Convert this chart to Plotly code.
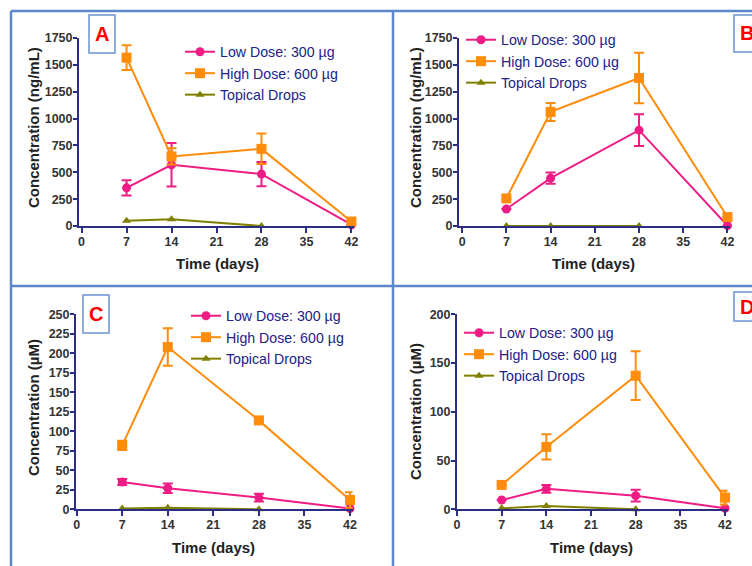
import plotly.graph_objects as go

# ---------------- data ----------------
days = [7, 14, 28, 42]
topical_days = [7, 14, 28]
x_ticks = [0, 7, 14, 21, 28, 35, 42]

A_low = [355, 570, 483, 12]
A_low_err = [72, 203, 112, 0]
A_high = [1567, 648, 718, 42]
A_high_err = [115, 75, 142, 0]
A_top = [48, 63, 0]

B_low = [158, 445, 892, 3]
B_low_err = [0, 52, 148, 0]
B_high = [257, 1062, 1378, 83]
B_high_err = [0, 84, 235, 0]
B_top = [0, 0, 0]

C_low = [35, 27, 15, 1]
C_low_err = [4, 6, 5, 0]
C_high = [82, 208, 114, 12]
C_high_err = [6, 24, 3, 10]
C_top = [1, 2, 0]

D_low = [9.5, 21, 14, 1]
D_low_err = [0, 4, 6, 0]
D_high = [25, 64, 137, 12]
D_high_err = [0, 13, 25, 7]
D_top = [1, 3.4, 0]

names = ["Low Dose: 300 µg", "High Dose: 600 µg", "Topical Drops"]
W, H = 752, 566

PINK = "#EE1C84"
ORANGE = "#FF8C0A"
OLIVE = "#808000"
NAVY = "#2B2E83"
LEG_TXT = "#22228A"
BORDER = "#5B88CC"

panels = [
    dict(key="A", low=A_low, lowe=A_low_err, high=A_high, highe=A_high_err, top=A_top,
         xd=(79, 354), xr=(-0.4, 42.4), yd=(38, 226), yr=1750, dt=250,
         ytitle="Concentration (ng/mL)",
         yt=(33, 128), xt=(217, 263), leg=(180, 36),
         box=(89, 15, 115, 53)),
    dict(key="B", low=B_low, lowe=B_low_err, high=B_high, highe=B_high_err, top=B_top,
         xd=(459, 730), xr=(-0.5, 42.4), yd=(38, 226), yr=1750, dt=250,
         ytitle="Concentration (ng/mL)",
         yt=(415, 128), xt=(593, 263), leg=(461, 24),
         box=(734, 15, 762, 52)),
    dict(key="C", low=C_low, lowe=C_low_err, high=C_high, highe=C_high_err, top=C_top,
         xd=(76, 352.6), xr=(-0.1, 42.4), yd=(314.3, 509.3), yr=250, dt=25,
         ytitle="Concentration (µM)",
         yt=(33, 408), xt=(213, 547), leg=(186, 300),
         box=(83, 295, 109, 333)),
    dict(key="D", low=D_low, lowe=D_low_err, high=D_high, highe=D_high_err, top=D_top,
         xd=(457, 727.6), xr=(0, 42.4), yd=(314.3, 509.3), yr=200, dt=50,
         ytitle="Concentration (µM)",
         yt=(415, 412), xt=(591, 547), leg=(459, 317),
         box=(734, 292, 762, 321)),
]

fig = go.Figure()
layout = dict(width=W, height=H, margin=dict(l=0, r=0, t=0, b=0, autoexpand=False),
              paper_bgcolor="white", plot_bgcolor="white")
annotations = []
shapes = []

tickfont = dict(family="Liberation Sans, Arial, sans-serif", size=12.5, color="#333333", weight=700)

for i, p in enumerate(panels):
    n = i + 1
    xa = "x" if n == 1 else f"x{n}"
    ya = "y" if n == 1 else f"y{n}"
    lg = "legend" if n == 1 else f"legend{n}"
    series = [
        (names[0], days, p["low"], p["lowe"], PINK, "circle", 9),
        (names[1], days, p["high"], p["highe"], ORANGE, "square", 10),
        (names[2], topical_days, p["top"], None, OLIVE, "triangle-up", 8),
    ]
    for nm, xs, ys, es, col, sym, ms in series:
        tr = dict(x=xs, y=ys, name=nm, mode="lines+markers", xaxis=xa, yaxis=ya,
                  legend=lg, cliponaxis=False,
                  line=dict(color=col, width=2),
                  marker=dict(color=col, symbol=sym, size=ms))
        if es is not None:
            tr["error_y"] = dict(type="data", array=es, visible=True, color=col,
                                 thickness=2, width=5)
        fig.add_trace(go.Scatter(**tr))

    xd0, xd1 = p["xd"]
    yd0, yd1 = p["yd"]
    layout[f"xaxis{'' if n == 1 else n}"] = dict(
        domain=[xd0 / W, xd1 / W], anchor=ya, range=list(p["xr"]),
        tickvals=x_ticks, ticks="outside", ticklen=5, tickwidth=2, tickcolor=NAVY,
        ticklabelstandoff=-2,
        showline=True, linecolor=NAVY, linewidth=2, showgrid=False, zeroline=False,
        tickfont=tickfont, fixedrange=True)
    layout[f"yaxis{'' if n == 1 else n}"] = dict(
        domain=[1 - yd1 / H, 1 - yd0 / H], anchor=xa, range=[0, p["yr"]],
        tickmode="linear", tick0=0, dtick=p["dt"],
        ticks="outside", ticklen=4, tickwidth=2, tickcolor=NAVY,
        ticklabelstandoff=-2,
        showline=True, linecolor=NAVY, linewidth=2, showgrid=False, zeroline=False,
        tickfont=tickfont, fixedrange=True)
    lx, ly = p["leg"]
    layout[lg] = dict(x=lx / W, y=1 - ly / H, xanchor="left", yanchor="top",
                      bgcolor="rgba(0,0,0,0)", borderwidth=0,
                      font=dict(family="Liberation Sans, Arial, sans-serif", size=14.2, color=LEG_TXT),
                      itemwidth=30, tracegroupgap=0)

    # axis titles
    tx, ty = p["yt"]
    annotations.append(dict(x=tx / W, y=1 - ty / H, xref="paper", yref="paper",
                            xanchor="center", yanchor="middle",
                            text=p["ytitle"], textangle=-90, showarrow=False,
                            font=dict(family="Liberation Sans, Arial, sans-serif", size=15,
                                      color="#222222", weight=700)))
    tx, ty = p["xt"]
    annotations.append(dict(x=tx / W, y=1 - ty / H, xref="paper", yref="paper",
                            xanchor="center", yanchor="middle",
                            text="Time (days)", showarrow=False,
                            font=dict(family="Liberation Sans, Arial, sans-serif", size=15,
                                      color="#222222", weight=700)))
    # panel label box
    bx0, by0, bx1, by1 = p["box"]
    shapes.append(dict(type="rect", xref="paper", yref="paper",
                       x0=bx0 / W, x1=bx1 / W, y0=1 - by1 / H, y1=1 - by0 / H,
                       line=dict(color="#6A93CF", width=1.5), fillcolor="white"))
    annotations.append(dict(x=(bx0 + 13) / W, y=1 - ((by0 + by1) / 2) / H,
                            xref="paper", yref="paper", text=p["key"], showarrow=False,
                            xanchor="center", yanchor="middle",
                            font=dict(family="Liberation Sans, Arial, sans-serif", size=20,
                                      color="#FF0000", weight=700)))

# panel borders
border_lines = [
    (11, 11, 760, 11),
    (11, 11, 11, 570),
    (393, 11, 393, 570),
    (11, 286, 760, 286),
]
for x0, y0, x1, y1 in border_lines:
    shapes.append(dict(type="line", xref="paper", yref="paper",
                       x0=x0 / W, x1=x1 / W, y0=1 - y0 / H, y1=1 - y1 / H,
                       line=dict(color=BORDER, width=2.5), layer="below"))

layout["annotations"] = annotations
layout["shapes"] = shapes
layout["showlegend"] = True
fig.update_layout(**layout)
fig.write_html("out.html", config={"displayModeBar": False},
               post_script="document.body.style.margin='0';document.body.style.overflow='hidden';")
